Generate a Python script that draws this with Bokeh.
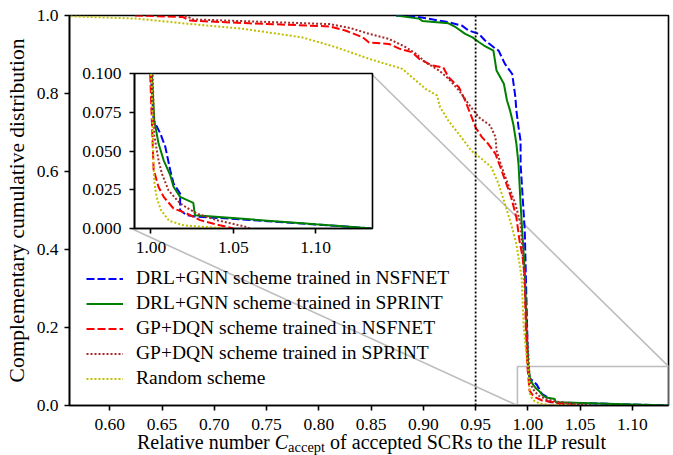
from bokeh.plotting import figure
from bokeh.layouts import column
from bokeh.models import (FixedTicker, PrintfTickFormatter, Legend, LegendItem,
                          Span, Div)
from bokeh.embed import file_html
from bokeh.resources import INLINE

# ---------------- data ----------------
series_labels = [
    "DRL+GNN scheme trained in NSFNET",
    "DRL+GNN scheme trained in SPRINT",
    "GP+DQN scheme trained in NSFNET",
    "GP+DQN scheme trained in SPRINT",
    "Random scheme",
]

drl_nsfnet_x = [0.874, 0.893, 0.924, 0.937, 0.943, 0.953, 0.959, 0.967, 0.972, 0.978,
                0.985, 0.988, 0.989, 0.991, 0.993, 0.993, 0.995, 0.997, 0.998, 0.9995,
                1.000, 1.0016, 1.0057, 1.0087, 1.0117, 1.0137, 1.0177, 1.0177, 1.0217,
                1.0277, 1.06, 1.10, 1.1345]
drl_nsfnet_y = [1.0, 0.997, 0.983, 0.974, 0.962, 0.953, 0.936, 0.919, 0.910, 0.876,
                0.850, 0.791, 0.756, 0.714, 0.679, 0.620, 0.534, 0.449, 0.338, 0.175,
                0.100, 0.0698, 0.0613, 0.0527, 0.0376, 0.029, 0.0226, 0.0118, 0.0086,
                0.0077, 0.0055, 0.0026, 0.0]

drl_sprint_x = [0.874, 0.896, 0.899, 0.924, 0.931, 0.940, 0.947, 0.953, 0.958, 0.967,
                0.970, 0.977, 0.980, 0.983, 0.986, 0.988, 0.989, 0.991, 0.993, 0.9945,
                0.997, 0.999, 1.0005, 1.002, 1.0046, 1.0077, 1.0117, 1.0137, 1.0177,
                1.0257, 1.0267, 1.06, 1.10, 1.1345]
drl_sprint_y = [1.0, 0.992, 0.986, 0.980, 0.970, 0.953, 0.944, 0.932, 0.923, 0.910,
                0.859, 0.825, 0.782, 0.756, 0.722, 0.688, 0.671, 0.620, 0.517, 0.449,
                0.346, 0.175, 0.100, 0.0698, 0.0548, 0.044, 0.0344, 0.0269, 0.0204,
                0.0165, 0.0086, 0.0059, 0.0027, 0.0]

gp_nsfnet_x = [0.624, 0.670, 0.677, 0.734, 0.810, 0.826, 0.842, 0.848, 0.867, 0.877,
               0.889, 0.896, 0.908, 0.919, 0.924, 0.934, 0.940, 0.945, 0.950, 0.956,
               0.962, 0.969, 0.976, 0.984, 0.989, 0.992, 0.995, 0.997, 0.998, 0.9995,
               1.0016, 1.0046, 1.0077, 1.0137, 1.0217, 1.0298, 1.0418, 1.050]
gp_nsfnet_y = [1.0, 0.996, 0.987, 0.980, 0.972, 0.961, 0.944, 0.931, 0.927, 0.915,
               0.906, 0.889, 0.872, 0.867, 0.842, 0.816, 0.782, 0.748, 0.713, 0.688,
               0.671, 0.645, 0.594, 0.534, 0.482, 0.422, 0.379, 0.328, 0.200, 0.100,
               0.038, 0.0268, 0.0204, 0.0129, 0.0097, 0.0054, 0.0021, 0.0]

gp_sprint_x = [0.672, 0.680, 0.734, 0.810, 0.830, 0.848, 0.867, 0.883, 0.893, 0.902,
               0.915, 0.924, 0.934, 0.943, 0.953, 0.964, 0.969, 0.970, 0.975, 0.982,
               0.988, 0.993, 0.996, 0.999, 1.001, 1.002, 1.0046, 1.0066, 1.0106,
               1.0177, 1.0277, 1.0398, 1.058, 1.060]
gp_sprint_y = [1.0, 0.990, 0.985, 0.978, 0.968, 0.953, 0.940, 0.919, 0.902, 0.880,
               0.859, 0.838, 0.808, 0.774, 0.739, 0.718, 0.688, 0.654, 0.611, 0.560,
               0.517, 0.466, 0.350, 0.200, 0.100, 0.060, 0.044, 0.0355, 0.0247,
               0.0161, 0.0097, 0.0054, 0.001, 0.0]

random_x = [0.5626, 0.626, 0.674, 0.727, 0.784, 0.816, 0.848, 0.880, 0.889, 0.902,
            0.913, 0.916, 0.924, 0.934, 0.946, 0.956, 0.965, 0.972, 0.978, 0.984,
            0.989, 0.992, 0.994, 0.996, 0.999, 1.0005, 1.0016, 1.002, 1.0035, 1.006,
            1.011, 1.020, 1.040, 1.045]
random_y = [0.998, 0.992, 0.979, 0.966, 0.944, 0.919, 0.889, 0.863, 0.842, 0.812,
            0.795, 0.765, 0.730, 0.696, 0.653, 0.632, 0.611, 0.568, 0.517, 0.465,
            0.414, 0.363, 0.328, 0.200, 0.120, 0.090, 0.040, 0.030, 0.020, 0.012,
            0.005, 0.002, 0.0005, 0.0]

main_xticks = [0.60, 0.65, 0.70, 0.75, 0.80, 0.85, 0.90, 0.95, 1.00, 1.05, 1.10]
main_yticks = [0.0, 0.2, 0.4, 0.6, 0.8, 1.0]
inset_xticks = [1.00, 1.05, 1.10]
inset_yticks = [0.0, 0.025, 0.05, 0.075, 0.1]
threshold_x = 0.95
main_xlim = (0.5615, 1.1345)
main_ylim = (0.0, 1.0)
inset_xlim = (0.99, 1.1345)
inset_ylim = (0.0, 0.1)
y_label = "Complementary cumulative distribution"
x_label_html = ("Relative number <i>C</i><sub style=\"font-size:14.5px;line-height:0;"
                "vertical-align:-2.5px\">accept</sub> of accepted SCRs to the ILP result")

xs = [drl_nsfnet_x, drl_sprint_x, gp_nsfnet_x, gp_sprint_x, random_x]
ys = [drl_nsfnet_y, drl_sprint_y, gp_nsfnet_y, gp_sprint_y, random_y]

# ---------------- styles ----------------
FONT = "Liberation Serif"
TICK_SIZE = "17.5px"
TEXT_SIZE = "19.5px"
colors = ["#0000ff", "#008000", "#ff0000", "#a52a2a", "#bfbf00"]
dashes = ["8 3", "solid", "8 3", "2 2", "2 2"]
LW = 2
INSET_GRAY = "#bdbdbd"

W, H = 673, 455
BL, BR, BT, BB = 69, 2, 15, 50
FW, FH = W - BL - BR, H - BT - BB
# inset frame position as fraction of main frame (left, bottom, width, height)
inset_pos = (0.1025, 0.453, 0.4, 0.397)
IL, IR, IT, IB = 66, 5, 12, 60


def style_axes(fig, lw=1.6, ystandoff=6):
    fig.xgrid.visible = False
    fig.ygrid.visible = False
    fig.outline_line_color = "black"
    fig.outline_line_width = lw
    fig.outline_line_alpha = 1.0
    for ax in (fig.xaxis[0], fig.yaxis[0]):
        ax.major_label_text_font = FONT
        ax.major_label_text_font_size = TICK_SIZE
        ax.major_label_text_color = "black"
        ax.major_tick_out = 5
        ax.major_tick_in = 0
        ax.minor_tick_out = 0
        ax.minor_tick_in = 0
        ax.axis_line_width = lw
        ax.axis_line_color = "black"
        ax.major_tick_line_width = lw
        ax.major_tick_line_color = "black"
    fig.xaxis[0].major_label_standoff = 8
    fig.yaxis[0].major_label_standoff = ystandoff


# ---------------- main figure ----------------
p = figure(width=W, height=H, x_range=main_xlim, y_range=main_ylim,
           output_backend="svg", toolbar_location=None,
           min_border_left=BL, min_border_right=BR,
           min_border_top=BT, min_border_bottom=BB)
style_axes(p)
p.xaxis[0].ticker = FixedTicker(ticks=main_xticks)
p.xaxis[0].formatter = PrintfTickFormatter(format="%.2f")
p.yaxis[0].ticker = FixedTicker(ticks=main_yticks)
p.yaxis[0].formatter = PrintfTickFormatter(format="%.1f")
p.yaxis[0].axis_label = y_label
p.yaxis[0].axis_label_text_font = FONT
p.yaxis[0].axis_label_text_font_size = "21.5px"
p.yaxis[0].axis_label_text_font_style = "normal"
p.yaxis[0].axis_label_text_color = "black"
p.yaxis[0].axis_label_standoff = 5

# inset indicator box and connectors
ix0, ix1 = inset_xlim
iy0, iy1 = inset_ylim
mx0, mx1 = main_xlim
my0, my1 = main_ylim
il_px = round(inset_pos[0] * FW)
iw_px = round(inset_pos[2] * FW)
ib_px = round(inset_pos[1] * FH)
ih_px = round(inset_pos[3] * FH)
in_left = mx0 + il_px / FW * (mx1 - mx0)
in_right = mx0 + (il_px + iw_px) / FW * (mx1 - mx0)
in_bottom = my0 + ib_px / FH * (my1 - my0)
in_top = my0 + (ib_px + ih_px) / FH * (my1 - my0)

p.quad(left=[ix0], right=[ix1], bottom=[iy0], top=[iy1], fill_alpha=0,
       line_color=INSET_GRAY, line_width=1.6)
p.segment(x0=[in_right, in_left], y0=[in_top, in_bottom],
          x1=[ix1, ix0], y1=[iy1, iy0], line_color=INSET_GRAY, line_width=1.6)

p.add_layout(Span(location=threshold_x, dimension="height", line_color="black",
                  line_dash="2 2", line_width=1.8))

renderers = []
for x, y, c, d in zip(xs, ys, colors, dashes):
    r = p.line(x, y, line_color=c, line_dash=d, line_width=LW)
    renderers.append(r)

legend = Legend(items=[LegendItem(label=lab, renderers=[r])
                       for lab, r in zip(series_labels, renderers)])
legend.location = (17, 16)
legend.background_fill_alpha = 0
legend.border_line_alpha = 0
legend.padding = 0
legend.margin = 0
legend.spacing = 3
legend.glyph_width = 37
legend.glyph_height = 21
legend.label_height = 21
legend.label_standoff = 13
legend.label_text_font = FONT
legend.label_text_font_size = TEXT_SIZE
legend.label_text_color = "black"
p.add_layout(legend)

# ---------------- inset figure ----------------
q_w, q_h = IL + iw_px + IR, IT + ih_px + IB
q = figure(width=q_w, height=q_h,
           x_range=inset_xlim, y_range=inset_ylim,
           output_backend="svg", toolbar_location=None,
           min_border_left=IL, min_border_right=IR,
           min_border_top=IT, min_border_bottom=IB)
style_axes(q, ystandoff=8)
q.background_fill_color = "white"
q.border_fill_alpha = 0
q.xaxis[0].ticker = FixedTicker(ticks=inset_xticks)
q.xaxis[0].formatter = PrintfTickFormatter(format="%.2f")
q.yaxis[0].ticker = FixedTicker(ticks=inset_yticks)
q.yaxis[0].formatter = PrintfTickFormatter(format="%.3f")
for ax in (q.xaxis[0], q.yaxis[0]):
    ax.axis_label = None
    ax.axis_label_standoff = 0
for x, y, c, d in zip(xs, ys, colors, dashes):
    q.line(x, y, line_color=c, line_dash=d, line_width=LW)

q_left = BL + il_px - IL
q_top = BT + (FH - ib_px - ih_px) - IT
q.margin = (q_top - H, 0, H - q_top - q_h, q_left)

# ---------------- x-axis label (with subscript) ----------------
DIV_H = 24
XLABEL_LEFT = 137
div_top = H - DIV_H
xlabel = Div(
    text=("<div style=\"font-family:'Liberation Serif';font-size:20px;"
          "line-height:23px;color:black;white-space:nowrap\">"
          + x_label_html + "</div>"),
    height=DIV_H, margin=(div_top - H, 0, 0, XLABEL_LEFT))

layout = column(p, q, xlabel)
open("out.html", "w").write(file_html(layout, INLINE))
